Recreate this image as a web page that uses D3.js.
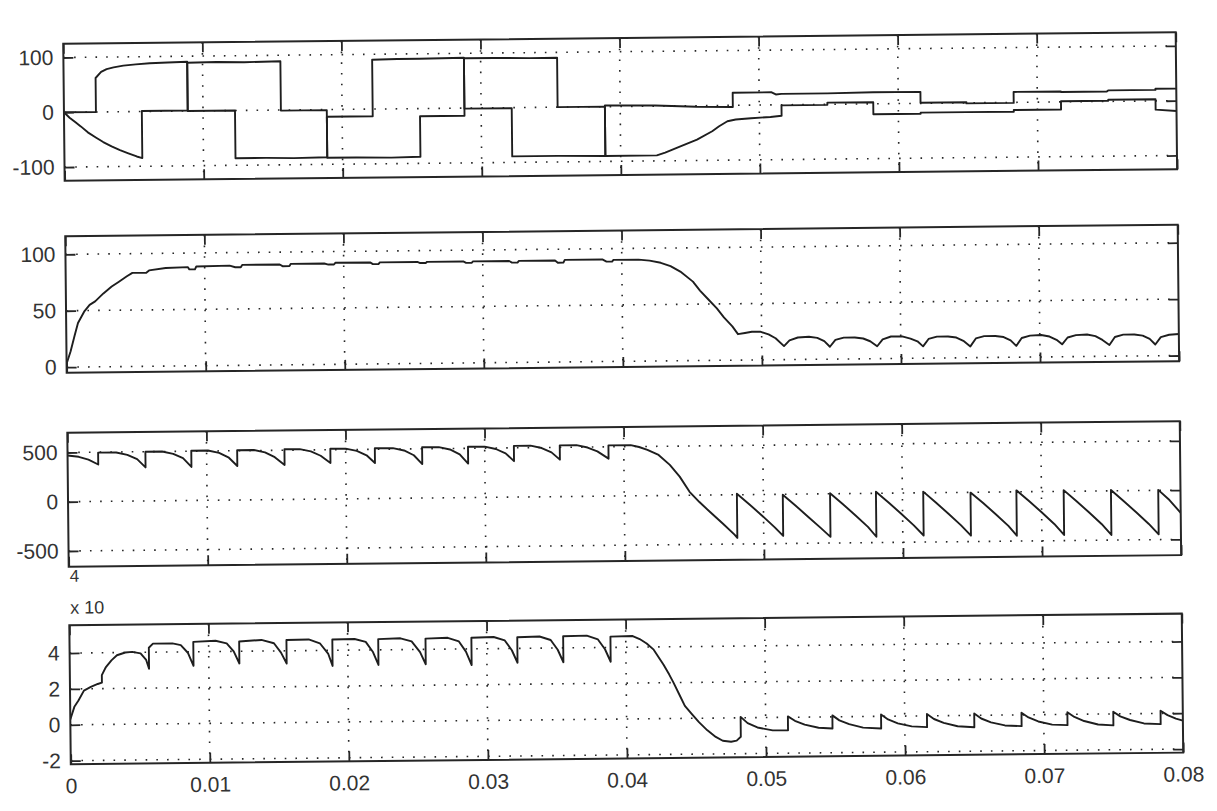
<!DOCTYPE html>
<html><head><meta charset="utf-8">
<script src="https://cdn.jsdelivr.net/npm/d3@7"></script>
<style>html,body{margin:0;padding:0;background:#fff;} svg{display:block;}</style>
</head><body><svg id="c" width="1217" height="811"></svg>
<script>
// ---------- data ----------
const xTicks = [0, 0.01, 0.02, 0.03, 0.04, 0.05, 0.06, 0.07, 0.08];
const xTickLabels = ["0", "0.01", "0.02", "0.03", "0.04", "0.05", "0.06", "0.07", "0.08"];

const yTicks1 = [-100, 0, 100];
const yTicks2 = [0, 50, 100];
const yTicks3 = [-500, 0, 500];
const yTicks4 = [-2, 0, 2, 4];
const yLimits = [[-125, 125], [-5, 116], [-660, 700], [-2.2, 5.55]];
const exponentLabel = "x 10";
const exponentPower = "4";

// subplot 1 : two phase-like currents
const s1a = [[0,0],[0.0023,0],[0.0023,62],[0.0027,73],[0.0031,78],[0.0036,81],[0.0043,84],[0.0052,86],[0.0062,88],[0.0075,89],[0.0089,90],
 [0.0089,0],[0.0123,0],
 [0.0123,-87],[0.0145,-87],[0.0165,-88],[0.0189,-87],
 [0.0189,-13],[0.0222,-13],
 [0.0222,90],[0.0240,91],[0.0256,91],[0.0288,92],
 [0.0288,-1],[0.0322,-1],
 [0.0322,-89],[0.0355,-89],[0.0389,-90],
 [0.0389,2],[0.0425,1],[0.0455,-2],[0.0481,-3],
 [0.0481,23],[0.0509,23],[0.0512,19],[0.0516,20],[0.0549,20],[0.0582,21],[0.0616,21],
 [0.0616,1],[0.0649,1],[0.0649,-1],[0.0683,-1],
 [0.0683,19],[0.0717,19],[0.0717,18],[0.0750,18],[0.0751,20],[0.0785,20],[0.0785,22],[0.08,22]];
const s1b = [[0,0],[0.0004,-10],[0.0008,-18],[0.0012,-26],[0.0017,-37],[0.0023,-47],[0.0028,-55],[0.0034,-63],[0.0040,-70],[0.0046,-76],[0.0052,-82],[0.0056,-85],
 [0.0056,1],[0.0089,1],
 [0.0089,88],[0.0110,89],[0.0130,88],[0.0156,89],
 [0.0156,-1],[0.0189,-1],
 [0.0189,-88],[0.0210,-88],[0.0235,-89],[0.0256,-88],
 [0.0256,-14],[0.0288,-14],
 [0.0288,91],[0.0310,91],[0.0335,90],[0.0355,90],
 [0.0355,0],[0.0389,0],
 [0.0389,-90],[0.0426,-90],[0.0432,-85],[0.0443,-74],[0.0455,-62],[0.0466,-47],[0.0471,-38],[0.0477,-29],[0.0483,-26],[0.0494,-24],[0.0508,-22],[0.0516,-20],
 [0.0516,-1],[0.0549,-1],[0.0549,3],[0.0582,3],
 [0.0582,-19],[0.0616,-19],[0.0616,-17],[0.0649,-17],[0.0683,-17],[0.0683,-14],[0.0717,-14],
 [0.0717,1],[0.0751,1],[0.0751,3],[0.0785,3],
 [0.0785,-16],[0.08,-19]];

// subplot 2 : speed-like trace
const s2 = [[0,3],[0.0003,14],[0.0006,28],[0.00085,39],[0.0013,49],[0.0017,55],[0.0021,58],[0.0027,65],[0.0033,71],[0.0038,75],[0.0044,80],[0.0048,83],[0.0058,83],[0.0060,85],[0.0072,87],
 [0.0088,87.5],[0.0089,85.5],[0.0093,85.5],[0.0094,88],[0.0118,88.5],[0.0122,87],[0.0126,87],[0.0127,89],[0.0154,89],[0.0156,87.5],[0.0161,87.5],[0.0162,89.5],
 [0.0186,89.5],[0.0189,88.5],[0.0193,88.5],[0.0194,90],[0.0219,90],[0.0221,88.5],[0.0225,88.5],[0.0226,90],[0.0253,90],[0.0255,89],[0.0259,89],[0.0260,90],
 [0.0286,90],[0.0288,88.7],[0.0292,88.7],[0.0293,90],[0.0319,90],[0.0321,88.5],[0.0325,88.5],[0.0326,90],[0.0352,90],[0.0354,88],[0.0358,88],[0.0359,90.5],
 [0.0386,90.5],[0.0389,88.5],[0.0393,88.5],[0.0394,90],[0.0412,90],[0.0420,89],[0.0428,87],[0.0435,84],[0.0442,79],[0.0451,70],[0.0456,62],[0.0462,54],
 [0.0468,46],[0.0473,38],[0.0479,30],[0.0483,23],[0.0488,24],[0.0493,25],[0.0499,25],[0.0505,22.5],[0.0510,19],[0.0516,12],
 [0.0520,17],[0.0526,19.5],[0.0534,20],[0.0540,19],[0.0545,16],[0.0549,11],
 [0.0553,17],[0.0559,19],[0.0567,19],[0.0573,18],[0.0578,15.5],[0.0583,11],
 [0.0587,17],[0.0593,19.5],[0.0601,19.5],[0.0607,17.5],[0.0612,15],[0.0616,10.5],
 [0.0620,17],[0.0626,19],[0.0634,19],[0.0640,18],[0.0645,15],[0.0650,10],
 [0.0654,17],[0.0660,19],[0.0668,19],[0.0674,18],[0.0679,15],[0.0683,10],
 [0.0687,17],[0.0693,19],[0.0701,19.5],[0.0707,18],[0.0712,15],[0.0716,11],
 [0.0720,17],[0.0726,19],[0.0734,19.5],[0.0740,18],[0.0745,14.5],[0.0750,10],
 [0.0754,17],[0.0760,19],[0.0768,19],[0.0774,18],[0.0779,15],[0.0783,10],
 [0.0787,16.5],[0.0793,18.5],[0.0800,19]];

// subplot 3 : voltage-like sawtooth
const s3 = [[0,470],[0.0008,455],[0.0015,425],[0.0022,375],
 [0.0022,495],[0.0035,495],[0.0043,470],[0.0050,425],[0.0056,340],
 [0.0056,500],[0.0068,500],[0.0076,475],[0.0083,430],[0.0089,340],
 [0.0089,505],[0.0101,505],[0.0109,480],[0.0116,430],[0.0122,345],
 [0.0122,505],[0.0134,505],[0.0142,480],[0.0149,430],[0.0156,350],
 [0.0156,510],[0.0167,510],[0.0175,485],[0.0182,440],[0.0189,365],
 [0.0189,510],[0.0200,510],[0.0208,485],[0.0215,440],[0.0221,360],
 [0.0221,510],[0.0234,510],[0.0242,485],[0.0249,435],[0.0255,345],
 [0.0255,515],[0.0267,515],[0.0275,490],[0.0282,440],[0.0288,345],
 [0.0288,515],[0.0300,515],[0.0308,490],[0.0315,445],[0.0321,365],
 [0.0321,520],[0.0333,520],[0.0341,495],[0.0348,450],[0.0354,375],
 [0.0354,520],[0.0366,520],[0.0374,495],[0.0381,455],[0.0389,380],
 [0.0389,515],[0.0405,515],[0.0411,495],[0.0417,465],[0.0425,412],[0.0433,310],[0.0440,190],[0.0447,35],[0.0454,-70],[0.0462,-178],[0.0471,-296],[0.0479,-405],[0.0481,-438],
 [0.0481,10],[0.0490,-100],[0.0499,-215],[0.0508,-335],[0.0514,-423],
 [0.0514,-5],[0.0523,-115],[0.0532,-230],[0.0541,-345],[0.0548,-437],
 [0.0548,5],[0.0557,-105],[0.0566,-220],[0.0575,-340],[0.0581,-441],
 [0.0581,15],[0.0590,-95],[0.0599,-210],[0.0608,-330],[0.0615,-433],
 [0.0615,12],[0.0624,-100],[0.0633,-215],[0.0642,-335],[0.0649,-440],
 [0.0649,-3],[0.0658,-110],[0.0667,-225],[0.0676,-345],[0.0682,-445],
 [0.0682,15],[0.0691,-95],[0.0700,-210],[0.0709,-330],[0.0716,-443],
 [0.0716,12],[0.0725,-100],[0.0734,-215],[0.0743,-335],[0.0750,-448],
 [0.0750,8],[0.0759,-105],[0.0768,-220],[0.0777,-340],[0.0784,-446],
 [0.0784,5],[0.0792,-100],[0.0800,-231]];

// subplot 4 : (x 10^4) trace
const s4 = [[0,0.3],[0.0003,1.0],[0.0006,1.35],[0.0010,1.9],[0.0015,2.1],[0.0020,2.26],[0.0023,2.33],[0.0023,2.75],[0.0026,3.2],[0.0030,3.57],[0.0034,3.85],[0.0040,4.0],[0.0045,4.03],[0.0051,3.94],[0.0055,3.57],[0.0057,3.08],
 [0.0057,4.25],[0.0060,4.48],[0.0074,4.48],[0.0080,4.38],[0.0085,3.95],[0.0089,3.22],
 [0.0089,4.55],[0.0105,4.6],[0.0113,4.45],[0.0118,4.0],[0.0122,3.32],
 [0.0122,4.55],[0.0138,4.62],[0.0147,4.43],[0.0152,3.9],[0.0156,3.29],
 [0.0156,4.6],[0.0172,4.62],[0.0180,4.4],[0.0186,3.8],[0.0189,3.13],
 [0.0189,4.6],[0.0205,4.62],[0.0213,4.45],[0.0218,3.9],[0.0222,3.16],
 [0.0222,4.6],[0.0238,4.63],[0.0246,4.45],[0.0252,3.85],[0.0256,3.17],
 [0.0256,4.6],[0.0272,4.63],[0.0280,4.42],[0.0285,3.85],[0.0289,3.1],
 [0.0289,4.62],[0.0305,4.65],[0.0313,4.45],[0.0318,3.9],[0.0322,3.2],
 [0.0322,4.62],[0.0338,4.65],[0.0346,4.45],[0.0351,3.9],[0.0355,3.2],
 [0.0355,4.65],[0.0372,4.67],[0.0380,4.45],[0.0385,3.9],[0.0389,3.2],
 [0.0389,4.6],[0.0405,4.62],[0.0410,4.45],[0.0415,4.2],[0.0420,3.85],[0.0427,3.0],[0.0431,2.45],[0.0434,2.0],[0.0438,1.35],[0.0442,0.7],[0.0447,0.23],[0.0452,-0.22],[0.0458,-0.68],[0.0464,-1.05],[0.0469,-1.27],[0.0475,-1.33],[0.0479,-1.27],[0.0482,-1.06],
 [0.0482,0.05],[0.0487,-0.3],[0.0494,-0.55],[0.0505,-0.72],[0.0516,-0.72],
 [0.0516,0.05],[0.0521,-0.2],[0.0528,-0.42],[0.0538,-0.6],[0.0548,-0.65],
 [0.0548,0.08],[0.0553,-0.2],[0.0560,-0.42],[0.0570,-0.62],[0.0583,-0.68],
 [0.0583,0.1],[0.0588,-0.18],[0.0595,-0.4],[0.0605,-0.58],[0.0616,-0.63],
 [0.0616,0.1],[0.0621,-0.18],[0.0628,-0.4],[0.0638,-0.6],[0.0650,-0.66],
 [0.0650,0.1],[0.0655,-0.18],[0.0662,-0.4],[0.0672,-0.58],[0.0684,-0.63],
 [0.0684,0.12],[0.0689,-0.15],[0.0696,-0.38],[0.0706,-0.56],[0.0717,-0.6],
 [0.0717,0.12],[0.0722,-0.15],[0.0729,-0.38],[0.0739,-0.58],[0.0750,-0.64],
 [0.0750,0.12],[0.0755,-0.14],[0.0762,-0.35],[0.0772,-0.55],[0.0784,-0.6],
 [0.0784,0.15],[0.0789,-0.1],[0.0795,-0.3],[0.0800,-0.42]];

// ---------- drawing ----------
const W = 1217, H = 811;
const svg = d3.select("#c");
svg.append("rect").attr("width", W).attr("height", H).attr("fill", "#ffffff");
const root = svg.append("g").attr("transform", "rotate(-0.6,620,400)");

const left = 67, right = 1179.5;
const x = d3.scaleLinear().domain([0, 0.08]).range([left, right]);
const FONT = "'Liberation Sans', Arial, sans-serif";
const INK = "#262626";

const panels = [
  {top: 38,    h: 137,   ticks: yTicks1, series: [s1a, s1b]},
  {top: 230.5, h: 136.5, ticks: yTicks2, series: [s2]},
  {top: 427,   h: 134,   ticks: yTicks3, series: [s3]},
  {top: 619.5, h: 139,   ticks: yTicks4, series: [s4]}
];

panels.forEach((p, i) => {
  const y = d3.scaleLinear().domain(yLimits[i]).range([p.top + p.h, p.top]);
  const g = root.append("g");
  const x0 = left, x1 = right, y0 = p.top, y1 = p.top + p.h;

  // dotted grid
  g.append("g").selectAll("line").data(xTicks.slice(1, -1)).join("line")
    .attr("x1", d => x(d)).attr("x2", d => x(d)).attr("y1", y0).attr("y2", y1)
    .attr("stroke", INK).attr("stroke-width", 1.6).attr("stroke-dasharray", "1.6 9.1");
  g.append("g").selectAll("line").data(p.ticks).join("line")
    .attr("x1", x0).attr("x2", x1).attr("y1", d => y(d)).attr("y2", d => y(d))
    .attr("stroke", INK).attr("stroke-width", 1.6).attr("stroke-dasharray", "1.6 9.1");

  // data
  const clipId = "clip" + i;
  g.append("clipPath").attr("id", clipId).append("rect")
    .attr("x", x0).attr("y", y0).attr("width", x1 - x0).attr("height", y1 - y0);
  const line = d3.line().x(d => x(d[0])).y(d => y(d[1]));
  p.series.forEach(s => {
    g.append("path").attr("d", line(s)).attr("fill", "none")
      .attr("stroke", "#1e1e1e").attr("stroke-width", 1.9)
      .attr("stroke-linejoin", "round").attr("clip-path", `url(#${clipId})`);
  });

  // axes with inward ticks
  const styleAxis = sel => {
    sel.select(".domain").remove();
    sel.selectAll(".tick line").attr("stroke", INK).attr("stroke-width", 1.8);
    sel.selectAll("text").attr("font-family", FONT).attr("font-size", 21).attr("fill", "#333");
  };
  g.append("g").attr("transform", `translate(${x0},0)`)
    .call(d3.axisLeft(y).tickValues(p.ticks).tickFormat(d => String(d)).tickSize(-10).tickPadding(10))
    .call(styleAxis);
  g.append("g").attr("transform", `translate(${x1},0)`)
    .call(d3.axisRight(y).tickValues(p.ticks).tickFormat("").tickSize(-10))
    .call(styleAxis);
  g.append("g").attr("transform", `translate(0,${y0})`)
    .call(d3.axisTop(x).tickValues(xTicks).tickFormat("").tickSize(-10))
    .call(styleAxis);
  const bottom = d3.axisBottom(x).tickValues(xTicks).tickSize(-10).tickPadding(14)
    .tickFormat(i === 3 ? ((d, k) => xTickLabels[k]) : "");
  g.append("g").attr("transform", `translate(0,${y1})`).call(bottom).call(styleAxis);

  // box
  g.append("rect").attr("x", x0).attr("y", y0).attr("width", x1 - x0).attr("height", y1 - y0)
    .attr("fill", "none").attr("stroke", INK).attr("stroke-width", 2);

  if (i === 3) {
    g.append("text").attr("x", 68).attr("y", 608).text(exponentLabel)
      .attr("font-family", FONT).attr("font-size", 18).attr("fill", "#333");
    g.append("text").attr("x", 68).attr("y", 576).text(exponentPower)
      .attr("font-family", FONT).attr("font-size", 17).attr("fill", "#333");
  }
});
</script></body></html>
